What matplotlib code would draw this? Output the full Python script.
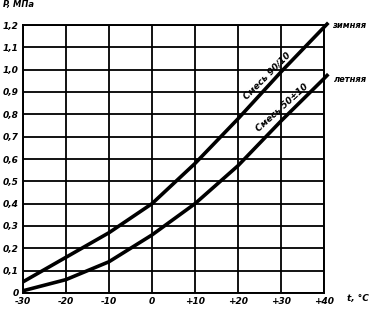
import matplotlib
matplotlib.use("Agg")
import matplotlib.pyplot as plt

# temperature, deg C (curves run a little past +40)
temp = [-30, -20, -10, 0, 10, 20, 30, 40, 41]
# vapour pressure of the two propane-butane mixtures, MPa
p_winter = [0.05, 0.16, 0.27, 0.40, 0.58, 0.78, 0.99, 1.19, 1.21]
p_summer = [0.01, 0.06, 0.14, 0.26, 0.40, 0.57, 0.77, 0.96, 0.98]

xticks = [-30, -20, -10, 0, 10, 20, 30, 40]
xtick_labels = ["-30", "-20", "-10", "0", "+10", "+20", "+30", "+40"]
yticks = [0, 0.1, 0.2, 0.3, 0.4, 0.5, 0.6, 0.7, 0.8, 0.9, 1.0, 1.1, 1.2]
ytick_labels = ["0", "0,1", "0,2", "0,3", "0,4", "0,5", "0,6", "0,7",
                "0,8", "0,9", "1,0", "1,1", "1,2"]

font = dict(fontstyle="italic", fontweight="bold", color="black")

fig = plt.figure(figsize=(3.74, 3.13), dpi=100)
ax = fig.add_axes([23 / 374, 20 / 313, 301 / 374, 268 / 313])

ax.set_xlim(-30, 40)
ax.set_ylim(0, 1.2)
ax.set_xticks(xticks)
ax.set_xticklabels(xtick_labels, fontsize=6.5, **font)
ax.set_yticks(yticks)
ax.set_yticklabels(ytick_labels, fontsize=6.5, **font)
ax.tick_params(length=0, pad=3)
ax.grid(True, color="black", lw=1.3)
for s in ax.spines.values():
    s.set_linewidth(1.4)

ax.plot(temp, p_winter, color="black", lw=2.6, clip_on=False,
        solid_capstyle="butt")
ax.plot(temp, p_summer, color="black", lw=2.6, clip_on=False,
        solid_capstyle="butt")

# labels along the curves
ax.text(26.8, 0.975, "Смесь 90/10", rotation=45, rotation_mode="anchor",
        ha="center", va="center", fontsize=6.5, **font)
ax.text(30.2, 0.83, "Смесь 50±10", rotation=42, rotation_mode="anchor",
        ha="center", va="center", fontsize=6.5, **font)

# curve names at the right end
ax.text(41.9, 1.20, "зимняя", ha="left", va="center", fontsize=6,
        clip_on=False, **font)
ax.text(42.3, 0.955, "летняя", ha="left", va="center", fontsize=6,
        clip_on=False, **font)

fig.text(3 / 374, 1 - 5 / 313, "P, МПа", ha="left", va="center",
         fontsize=6, **font)
fig.text(358 / 374, 1 - 298 / 313, "t, °C", ha="center", va="center",
         fontsize=6.5, **font)

fig.savefig("out.png", dpi=100)
